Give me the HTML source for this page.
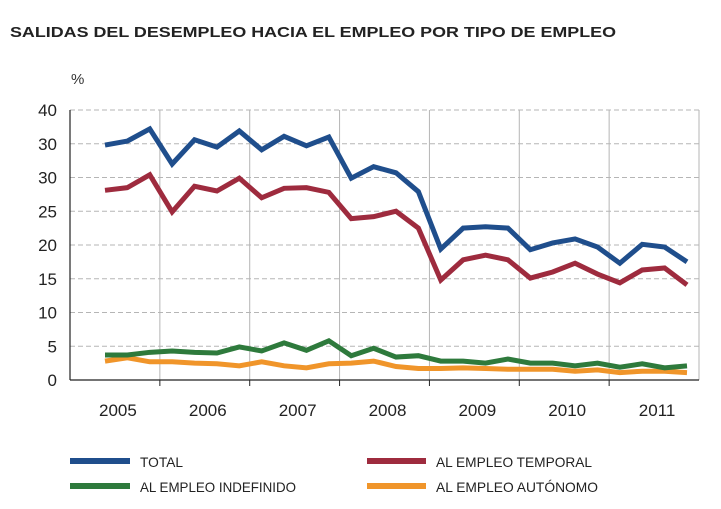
<!DOCTYPE html>
<html><head><meta charset="utf-8"><style>
body{margin:0;background:#fff;}
svg{display:block;font-family:"Liberation Sans",Arial,sans-serif;}
</style></head><body>
<svg id="chart" width="721" height="509" viewBox="0 0 721 509">
<text x="10" y="37" font-size="15" font-weight="bold" fill="#222" textLength="606" lengthAdjust="spacingAndGlyphs">SALIDAS DEL DESEMPLEO HACIA EL EMPLEO POR TIPO DE EMPLEO</text>
<text x="71" y="84" font-size="15" fill="#333">%</text>
<g id="grid"></g><g id="series"></g><g id="axes"></g>
<g>
<rect x="70" y="458" width="60" height="6" fill="#1f4e8c"/>
<text x="140" y="467" font-size="14" fill="#222" textLength="43" lengthAdjust="spacingAndGlyphs">TOTAL</text>
<rect x="367" y="458" width="59" height="6" fill="#9e2b3e"/>
<text x="436" y="467" font-size="14" fill="#222" textLength="156" lengthAdjust="spacingAndGlyphs">AL EMPLEO TEMPORAL</text>
<rect x="70" y="483" width="60" height="6" fill="#2e7a3c"/>
<text x="140" y="492" font-size="14" fill="#222" textLength="156" lengthAdjust="spacingAndGlyphs">AL EMPLEO INDEFINIDO</text>
<rect x="367" y="483" width="59" height="6" fill="#f0952a"/>
<text x="436" y="492" font-size="14" fill="#222" textLength="162" lengthAdjust="spacingAndGlyphs">AL EMPLEO AUTÓNOMO</text>
</g>
</svg>
<script>
const years = ["2005","2006","2007","2008","2009","2010","2011"];
const yTickValues = [0,5,10,15,20,25,30,35,40];
const yTickLabels = ["0","5","10","15","20","25","30","30","40"];
const total = [34.8,35.4,37.2,32.0,35.6,34.5,36.9,34.1,36.1,34.7,36.0,29.9,31.6,30.7,27.9,19.4,22.5,22.7,22.5,19.3,20.3,20.9,19.7,17.3,20.1,19.7,17.5];
const temporal = [28.1,28.5,30.4,24.9,28.7,28.0,29.9,27.0,28.4,28.5,27.8,23.9,24.2,25.0,22.5,14.8,17.8,18.5,17.8,15.1,16.0,17.3,15.7,14.4,16.3,16.6,14.1];
const indefinido = [3.7,3.7,4.1,4.3,4.1,4.0,4.9,4.3,5.5,4.4,5.8,3.6,4.7,3.4,3.6,2.8,2.8,2.5,3.1,2.5,2.5,2.1,2.5,1.9,2.4,1.8,2.1];
const autonomo = [2.8,3.3,2.7,2.7,2.5,2.4,2.1,2.7,2.1,1.8,2.4,2.5,2.8,2.0,1.7,1.7,1.8,1.7,1.6,1.6,1.6,1.3,1.5,1.1,1.3,1.3,1.1];

const NS="http://www.w3.org/2000/svg";
const L=70,R=699,T=110,B=380;
const yS=v=>B-(v/40)*(B-T);
const yearW=(R-L)/7;
const xS=i=>105+i*((687-105)/26);
function mk(tag,attrs,parent){const e=document.createElementNS(NS,tag);for(const k in attrs)e.setAttribute(k,attrs[k]);parent.appendChild(e);return e;}
const grid=document.getElementById('grid'),axes=document.getElementById('axes'),ser=document.getElementById('series');
yTickValues.forEach((v,i)=>{
  if(v>0){const g=mk('line',{x1:L,x2:R,y1:yS(v),y2:yS(v),stroke:'#b5b5b5','stroke-width':1,'stroke-dasharray':'5,3'},grid);
  
  }
  const t=mk('text',{x:57,y:yS(v)+6,'font-size':17,'text-anchor':'end',fill:'#222'},axes);
  t.textContent=yTickLabels[i];
  
  
});
years.forEach((yr,i)=>{
  const x=L+(i+1)*yearW;
  const g=mk('line',{x1:x,x2:x,y1:T,y2:B,stroke:'#b5b5b5','stroke-width':1},grid);
  
  
  if(i<6){const tk=mk('line',{x1:x,x2:x,y1:B,y2:B+6,stroke:'#222','stroke-width':1},axes);
  
  }
  const t=mk('text',{x:L+(i+0.5)*yearW+3,y:416,'font-size':17,'text-anchor':'middle',fill:'#222'},axes);
  t.textContent=yr;
  
  
});
const ya=mk('line',{x1:L,x2:L,y1:T,y2:B,stroke:'#222','stroke-width':1.2},axes);


const xa=mk('line',{x1:L,x2:R,y1:B,y2:B,stroke:'#222','stroke-width':1.2},axes);


[[autonomo,'#f0952a','line-autonomo'],[indefinido,'#2e7a3c','line-indefinido'],[temporal,'#9e2b3e','line-temporal'],[total,'#1f4e8c','line-total']].forEach(([d,c,n])=>{
  const p=mk('polyline',{points:d.map((v,i)=>xS(i)+','+yS(v)).join(' '),fill:'none',stroke:c,'stroke-width':5,'stroke-linejoin':'miter'},ser);
  
  
});
</script>
</body></html>
